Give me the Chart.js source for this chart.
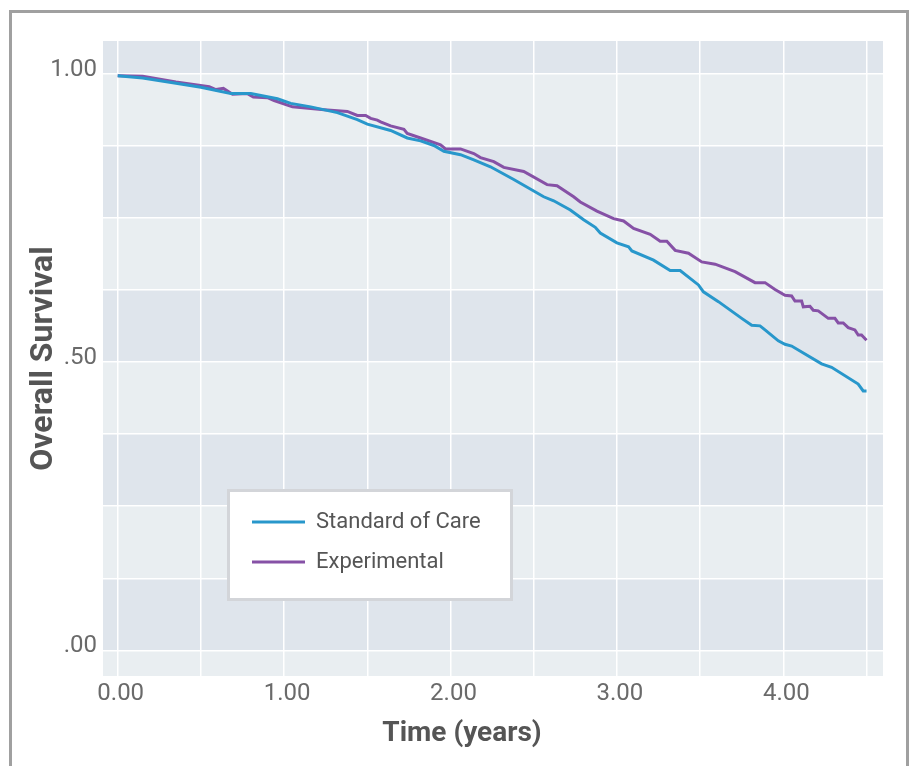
<!DOCTYPE html>
<html>
<head>
<meta charset="utf-8">
<title>Overall Survival</title>
<script src="https://cdn.jsdelivr.net/npm/chart.js@4.4.0/dist/chart.umd.min.js"></script>
<style>
  html, body { margin: 0; padding: 0; background: #fff; overflow: hidden; }
  #frame {
    position: absolute; left: 9px; top: 10px;
    width: 894px; height: 800px;
    border: 3px solid #a0a0a0;
  }
  #chart { position: absolute; left: 0; top: 0; }
</style>
</head>
<body>
<div id="frame"></div>
<canvas id="chart" width="914" height="766"></canvas>
<script>
// Series names
const seriesNames = ["Standard of Care", "Experimental"];

// Standard of Care curve (time in years, survival)
const timeSoc = [0, 0.15, 0.35, 0.50, 0.60, 0.68, 0.80, 0.96, 1.04, 1.16, 1.32, 1.44, 1.50, 1.64,
  1.74, 1.82, 1.90, 1.96, 2.06, 2.14, 2.24, 2.38, 2.56, 2.62, 2.72, 2.80, 2.87, 2.90, 3.00,
  3.07, 3.09, 3.22, 3.32, 3.38, 3.49, 3.52, 3.61, 3.75, 3.81, 3.86, 3.89, 3.97, 4.01, 4.05,
  4.23, 4.29, 4.45, 4.48, 4.50];
const survSoc = [0.997, 0.993, 0.984, 0.977, 0.971, 0.966, 0.966, 0.957, 0.949, 0.943, 0.933, 0.921, 0.913, 0.902,
  0.889, 0.884, 0.876, 0.866, 0.860, 0.851, 0.839, 0.817, 0.787, 0.780, 0.764, 0.747, 0.734, 0.724, 0.707,
  0.700, 0.693, 0.677, 0.659, 0.659, 0.634, 0.622, 0.605, 0.576, 0.564, 0.563, 0.556, 0.537, 0.531, 0.528,
  0.497, 0.491, 0.462, 0.450, 0.450];

// Experimental curve
const timeExp = [0, 0.15, 0.35, 0.55, 0.59, 0.635, 0.69, 0.78, 0.815, 0.90, 0.94, 1.05, 1.24, 1.38,
  1.44, 1.49, 1.52, 1.56, 1.58, 1.64, 1.72, 1.74, 1.82, 1.94, 1.97, 2.06, 2.14, 2.18, 2.26, 2.32,
  2.44, 2.58, 2.64, 2.74, 2.78, 2.88, 2.98, 3.04, 3.10, 3.20, 3.26, 3.30, 3.35, 3.43, 3.51, 3.59,
  3.71, 3.83, 3.89, 3.95, 4.01, 4.05, 4.07, 4.11, 4.12, 4.16, 4.18, 4.21, 4.27, 4.31, 4.33, 4.36,
  4.39, 4.43, 4.45, 4.47, 4.50];
const survExp = [0.997, 0.996, 0.986, 0.978, 0.973, 0.975, 0.965, 0.966, 0.960, 0.959, 0.954, 0.943, 0.938, 0.935,
  0.928, 0.928, 0.923, 0.920, 0.917, 0.910, 0.904, 0.897, 0.889, 0.877, 0.870, 0.870, 0.862, 0.855, 0.848, 0.838,
  0.831, 0.808, 0.806, 0.787, 0.778, 0.762, 0.749, 0.745, 0.732, 0.722, 0.710, 0.710, 0.694, 0.689, 0.674, 0.670,
  0.657, 0.638, 0.638, 0.626, 0.616, 0.615, 0.606, 0.606, 0.596, 0.597, 0.590, 0.589, 0.576, 0.576, 0.568, 0.568,
  0.560, 0.556, 0.547, 0.547, 0.538];

// Tick positions
const xTicks = [0, 0.5, 1, 1.5, 2, 2.5, 3, 3.5, 4, 4.5];
const yTicks = [0, 0.125, 0.25, 0.375, 0.5, 0.625, 0.75, 0.875, 1];

const FONT = "Roboto, 'Liberation Sans', sans-serif";
const xTitle = "Time (years)";
const yTitle = "Overall Survival";

function toPoints(ts, vs) {
    return ts.map((t, i) => ({ x: t, y: vs[i] }));
}

// alternating shaded bands behind the grid + legend box + x title
const decorPlugin = {
    id: 'decor',
    beforeDraw(chart) {
        const { ctx, chartArea: a, scales: { y } } = chart;
        ctx.save();
        ctx.fillStyle = '#dfe5ec';
        ctx.fillRect(a.left, a.top, a.right - a.left, a.bottom - a.top);
        ctx.fillStyle = '#e9eef1';
        const edges = [y.min, ...yTicks, y.max];
        for (let i = 0; i < edges.length - 1; i += 2) {
            const y0 = y.getPixelForValue(edges[i]);
            const y1 = y.getPixelForValue(edges[i + 1]);
            ctx.fillRect(a.left, y1, a.right - a.left, y0 - y1);
        }
        ctx.restore();
    },
    afterLayout(chart) {
        // put the legend inside the plot, lower left
        const leg = chart.legend;
        leg.left = 234;
        leg.top = 493;
        leg.right = 508;
        leg.bottom = 598;
    },
    beforeDatasetsDraw(chart) {
        const ctx = chart.ctx;
        ctx.save();
        ctx.fillStyle = '#ffffff';
        ctx.fillRect(228.5, 490.5, 283, 109);
        ctx.strokeStyle = '#d3d5d9';
        ctx.lineWidth = 3;
        ctx.strokeRect(228.5, 490.5, 283, 109);
        ctx.restore();
        chart.legend.draw();
    },
    afterDraw(chart) {
        const ctx = chart.ctx;
        ctx.save();
        ctx.font = "bold 28px " + FONT;
        ctx.fillStyle = '#555555';
        ctx.textAlign = 'center';
        ctx.textBaseline = 'alphabetic';
        ctx.fillText(xTitle, 462, 741);
        ctx.restore();
    }
};

const ctx = document.getElementById('chart').getContext('2d');

const chart = new Chart(ctx, {
    type: 'line',
    data: {
        datasets: [
            {
                label: seriesNames[0],
                data: toPoints(timeSoc, survSoc),
                borderColor: '#2897cb',
                backgroundColor: '#2897cb',
                borderWidth: 3,
                pointRadius: 0,
                tension: 0
            },
            {
                label: seriesNames[1],
                data: toPoints(timeExp, survExp),
                borderColor: '#8651a6',
                backgroundColor: '#8651a6',
                borderWidth: 3,
                pointRadius: 0,
                tension: 0
            }
        ]
    },
    options: {
        responsive: false,
        animation: false,
        layout: { padding: { left: 0, top: 41, right: 31, bottom: 0 } },
        plugins: {
            tooltip: { enabled: false },
            legend: {
                position: 'chartArea',
                align: 'start',
                labels: {
                    usePointStyle: true,
                    pointStyle: 'line',
                    pointStyleWidth: 53,
                    padding: 18,
                    color: '#555555',
                    font: { family: FONT, size: 22 }
                }
            }
        },
        scales: {
            x: {
                type: 'linear',
                min: -0.0884,
                max: 4.599,
                afterBuildTicks: (scale) => { scale.ticks = xTicks.map(v => ({ value: v })); },
                afterFit: (scale) => { scale.height = 90; },
                grid: { color: '#ffffff', lineWidth: 1.5, drawTicks: false },
                border: { display: false },
                ticks: {
                    color: '#6a6a6a',
                    padding: 4,
                    labelOffset: 3,
                    maxRotation: 0,
                    font: { family: FONT, size: 24 },
                    callback: (v) => Number.isInteger(v) ? v.toFixed(2) : ''
                }
            },
            y: {
                min: -0.0446,
                max: 1.0573,
                afterBuildTicks: (scale) => { scale.ticks = yTicks.map(v => ({ value: v })); },
                afterFit: (scale) => { scale.width = 103; },
                grid: { color: '#ffffff', lineWidth: 1.5, drawTicks: false },
                border: { display: false },
                title: {
                    display: true,
                    text: yTitle,
                    color: '#555555',
                    padding: { top: 25, bottom: 0 },
                    font: { family: FONT, size: 32, weight: 'bold' }
                },
                ticks: {
                    color: '#6a6a6a',
                    padding: 6,
                    labelOffset: -4,
                    font: { family: FONT, size: 24 },
                    callback: (v) => (v % 0.5 === 0) ? v.toFixed(2).replace(/^0/, '') : ''
                }
            }
        }
    },
    plugins: [decorPlugin]
});
</script>
</body>
</html>
